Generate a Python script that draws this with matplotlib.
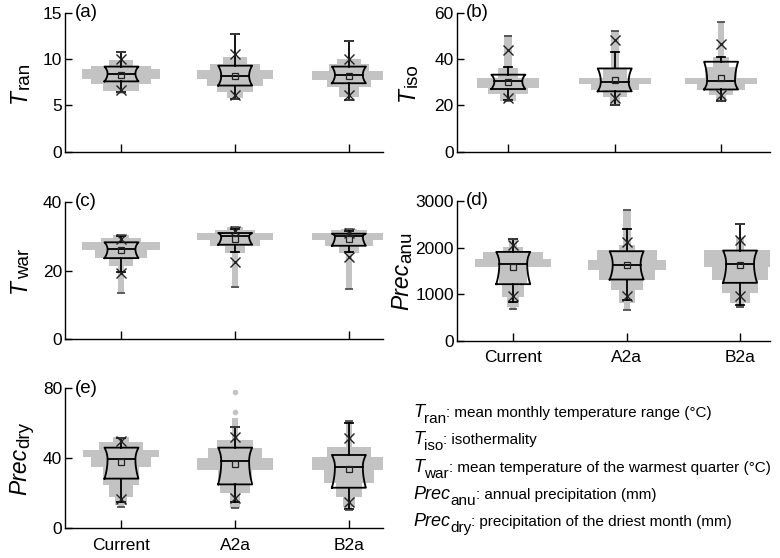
import numpy as np
import matplotlib.pyplot as plt

plt.rcParams['font.family'] = ['Liberation Sans', 'DejaVu Sans']

groups = ['Current', 'A2a', 'B2a']

# box statistics, one value per group (Current, A2a, B2a)
# (a) T_ran
a_max = [10.8, 12.7, 12.0]
a_whi = [10.8, 12.7, 12.0]
a_p99 = [10.0, 10.6, 10.0]
a_q3 = [9.2, 9.3, 9.2]
a_med = [8.45, 8.2, 8.3]
a_mean = [8.3, 8.2, 8.2]
a_q1 = [7.6, 7.15, 7.4]
a_p1 = [6.7, 6.1, 6.1]
a_wlo = [6.5, 5.7, 5.6]
a_min = [6.5, 5.7, 5.6]

# (b) T_iso
b_max = [50.0, 52.1, 56.1]
b_whi = [36.8, 42.9, 41.0]
b_p99 = [43.9, 48.1, 46.4]
b_q3 = [33.3, 36.0, 38.9]
b_med = [30.4, 30.3, 30.7]
b_mean = [30.0, 31.1, 31.9]
b_q1 = [27.1, 26.1, 26.9]
b_p1 = [23.3, 23.1, 24.3]
b_wlo = [22.4, 20.0, 22.1]
b_min = [22.1, 20.0, 22.1]

# (c) T_war
c_max = [30.2, 32.6, 32.0]
c_whi = [29.9, 32.0, 31.6]
c_p99 = [29.1, 31.4, 30.9]
c_q3 = [28.2, 30.9, 30.7]
c_med = [26.2, 29.9, 29.9]
c_mean = [26.0, 29.2, 29.2]
c_q1 = [23.6, 27.5, 27.2]
c_p1 = [19.4, 22.6, 23.8]
c_wlo = [19.6, 25.5, 25.5]
c_min = [13.4, 15.1, 14.7]

# (d) Prec_anu
d_max = [2193, 2800, 2500]
d_whi = [2180, 2407, 2500]
d_p99 = [2050, 2121, 2157]
d_q3 = [1907, 1921, 1936]
d_med = [1657, 1636, 1657]
d_mean = [1586, 1621, 1621]
d_q1 = [1214, 1314, 1243]
d_p1 = [957, 957, 957]
d_wlo = [836, 871, 764]
d_min = [671, 657, 714]

# (e) Prec_dry
e_max = [51.8, 58.1, 61.5]
e_whi = [51.4, 58.1, 60.0]
e_p99 = [50.1, 52.4, 51.4]
e_q3 = [46.1, 46.1, 41.9]
e_med = [39.4, 38.5, 35.2]
e_mean = [38.1, 36.8, 33.7]
e_q1 = [28.4, 25.1, 23.2]
e_p1 = [16.6, 17.1, 15.2]
e_wlo = [14.9, 15.2, 10.9]
e_min = [12.4, 11.4, 10.5]
e_outliers_a2a = [66.7, 78.0]

# distributions behind the boxes: bin edges and relative counts
a_cur_edges = [6.2, 6.6, 7.3, 7.9, 8.9, 9.3, 9.9]
a_cur_counts = [5, 18, 30, 39, 30, 12]
a_a2a_edges = [5.8, 6.4, 7.1, 7.9, 8.8, 9.5, 10.2]
a_a2a_counts = [8, 18, 28, 38, 25, 12]
a_b2a_edges = [5.9, 7.0, 7.75, 8.75, 9.5, 10.0]
a_b2a_counts = [10, 22, 37, 20, 12]

b_cur_edges = [22, 25, 27.6, 31.9, 36.4, 50.5]
b_cur_counts = [8, 20, 31, 10, 4]
b_a2a_edges = [20, 23.5, 26.5, 29.3, 31.9, 36, 52]
b_a2a_counts = [5, 12, 24, 36, 12, 4]
b_b2a_edges = [22, 24.5, 26.5, 29.3, 31.9, 36.5, 41, 56]
b_b2a_counts = [5, 12, 24, 36, 16, 8, 3]

c_cur_edges = [13.4, 21.2, 23.6, 26, 28.2, 29.4, 30.4]
c_cur_counts = [3, 12, 26, 39, 20, 8]
c_a2a_edges = [15, 25, 27.2, 28.9, 30.9, 31.8, 32.6]
c_a2a_counts = [3, 10, 25, 38, 20, 8]
c_b2a_edges = [14.6, 25, 27.2, 28.9, 30.9, 31.8, 32.2]
c_b2a_counts = [3, 10, 24, 37, 18, 8]

d_cur_edges = [660, 730, 943, 1229, 1586, 1764, 1907, 2014, 2190]
d_cur_counts = [3, 6, 11, 14, 38, 30, 10, 4]
d_a2a_edges = [650, 800, 1086, 1300, 1514, 1729, 1943, 2050, 2800]
d_a2a_counts = [3, 8, 16, 28, 39, 30, 8, 4]
d_b2a_edges = [700, 800, 1014, 1300, 1586, 1943, 2230]
d_b2a_counts = [4, 10, 18, 28, 36, 4]

e_cur_edges = [12.4, 13.3, 18.1, 24.8, 35.2, 40.6, 44.8, 49.5, 52]
e_cur_counts = [3, 6, 12, 18, 30, 38, 22, 8]
e_a2a_edges = [11.4, 20, 27.6, 33.3, 40, 45.7, 50.5, 63]
e_a2a_counts = [5, 15, 17, 38, 27, 18, 3]
e_b2a_edges = [10.5, 12.4, 18.1, 25.7, 33.3, 40.6, 46.7, 61.5]
e_b2a_counts = [3, 6, 13, 25, 37, 22, 3]

panels = [
    ('(a)', ('T', 'ran'), [0, 5, 10, 15],
     [a_max, a_whi, a_p99, a_q3, a_med, a_mean, a_q1, a_p1, a_wlo, a_min],
     [(a_cur_edges, a_cur_counts), (a_a2a_edges, a_a2a_counts), (a_b2a_edges, a_b2a_counts)]),
    ('(b)', ('T', 'iso'), [0, 20, 40, 60],
     [b_max, b_whi, b_p99, b_q3, b_med, b_mean, b_q1, b_p1, b_wlo, b_min],
     [(b_cur_edges, b_cur_counts), (b_a2a_edges, b_a2a_counts), (b_b2a_edges, b_b2a_counts)]),
    ('(c)', ('T', 'war'), [0, 20, 40],
     [c_max, c_whi, c_p99, c_q3, c_med, c_mean, c_q1, c_p1, c_wlo, c_min],
     [(c_cur_edges, c_cur_counts), (c_a2a_edges, c_a2a_counts), (c_b2a_edges, c_b2a_counts)]),
    ('(d)', ('Prec', 'anu'), [0, 1000, 2000, 3000],
     [d_max, d_whi, d_p99, d_q3, d_med, d_mean, d_q1, d_p1, d_wlo, d_min],
     [(d_cur_edges, d_cur_counts), (d_a2a_edges, d_a2a_counts), (d_b2a_edges, d_b2a_counts)]),
    ('(e)', ('Prec', 'dry'), [0, 40, 80],
     [e_max, e_whi, e_p99, e_q3, e_med, e_mean, e_q1, e_p1, e_wlo, e_min],
     [(e_cur_edges, e_cur_counts), (e_a2a_edges, e_a2a_counts), (e_b2a_edges, e_b2a_counts)]),
]

desc_var = [('T', 'ran'), ('T', 'iso'), ('T', 'war'), ('Prec', 'anu'), ('Prec', 'dry')]
desc_text = [
    ': mean monthly temperature range (°C)',
    ': isothermality',
    ': mean temperature of the warmest quarter (°C)',
    ': annual precipitation (mm)',
    ': precipitation of the driest month (mm)',
]

# layout (figure fractions), x limits, ylabel baseline x (px)
W_PX, H_PX = 780, 558
rects = [
    [0.0833, 0.7282, 0.4077, 0.2486],
    [0.5853, 0.7282, 0.4019, 0.2486],
    [0.0833, 0.3919, 0.4077, 0.2466],
    [0.5853, 0.3894, 0.4019, 0.2504],
    [0.0833, 0.0532, 0.4077, 0.2509],
]
xlims = [(0.503, 3.30), (0.513, 3.46), (0.503, 3.30), (0.50, 3.264), (0.503, 3.30)]
ylab_px = [26, 414, 26, 408, 26]

gray = '#c3c3c3'
fig = plt.figure(figsize=(7.8, 5.58), dpi=100)
rend = fig.canvas.get_renderer()


def var_label(x, y, main, sub, s_main, s_sub, drop, rotated=False):
    # italic symbol with a large, lowered upright subscript; x, y in pixels
    if not rotated:
        t1 = fig.text(x / W_PX, y / H_PX, main, style='italic', fontsize=s_main,
                      va='baseline', ha='left')
        bb = t1.get_window_extent(rend)
        t2 = fig.text(bb.x1 / W_PX, (y - drop) / H_PX, sub, fontsize=s_sub,
                      va='baseline', ha='left')
        return t2.get_window_extent(rend).x1
    kw = dict(rotation=90, rotation_mode='anchor', va='baseline', ha='left')
    t1 = fig.text(x / W_PX, 0, main, style='italic', fontsize=s_main, **kw)
    t2 = fig.text((x + drop) / W_PX, 0, sub, fontsize=s_sub, **kw)
    l1 = t1.get_window_extent(rend).height
    l2 = t2.get_window_extent(rend).height
    y0 = y - (l1 + l2) / 2
    t1.set_position((x / W_PX, y0 / H_PX))
    t2.set_position(((x + drop) / W_PX, (y0 + l1) / H_PX))


for k, (lab, ylab, yt, st, dists) in enumerate(panels):
    ax = fig.add_axes(rects[k])
    x0, x1 = xlims[k]
    ppu = rects[k][2] * W_PX / (x1 - x0)  # pixels per x unit
    mx, whi, p99, q3, med, mean, q1, p1, wlo, mn = st
    box_w = 17 / ppu
    cap_w = 4 / ppu
    notch = 0.18

    for i in range(3):
        x = i + 1
        edges = np.array(dists[i][0], dtype=float)
        counts = np.array(dists[i][1], dtype=float)
        hw = counts / ppu
        ax.barh((edges[:-1] + edges[1:]) / 2, 2 * hw, height=np.diff(edges),
                left=x - hw, color=gray, lw=0, zorder=1)

        # notched box outline
        t = np.linspace(0, 1, 25)
        y_low = med[i] - (med[i] - q1[i]) * t[::-1]
        y_up = med[i] + (q3[i] - med[i]) * t
        ys = np.concatenate([y_low, y_up[1:]])
        tt = np.concatenate([t[::-1], t[1:]])
        half = box_w * (1 - notch * (1 - tt ** 2))
        px = np.concatenate([x - half, (x + half)[::-1], [x - half[0]]])
        py = np.concatenate([ys, ys[::-1], [ys[0]]])
        ax.plot(px, py, color='k', lw=1.3, zorder=4)
        ax.plot([x - box_w * (1 - notch), x + box_w * (1 - notch)], [med[i], med[i]],
                color='k', lw=1.3, zorder=4)

        # whiskers and caps
        ax.plot([x, x], [q3[i], whi[i]], color='k', lw=1.3, zorder=4)
        ax.plot([x, x], [q1[i], wlo[i]], color='k', lw=1.3, zorder=4)
        ax.plot([x - cap_w, x + cap_w], [whi[i], whi[i]], color='k', lw=1.3, zorder=4)
        ax.plot([x - cap_w, x + cap_w], [wlo[i], wlo[i]], color='k', lw=1.3, zorder=4)

        ax.plot([x, x], [mn[i], mx[i]], ls='none', marker='_', ms=6, mew=1.2,
                color='#444444', zorder=5)
        ax.plot([x, x], [p1[i], p99[i]], ls='none', marker='x', ms=7, mew=1.0,
                color='#222222', zorder=5)
        ax.plot([x], [mean[i]], ls='none', marker='s', ms=5, mfc='none', mec='#222222',
                mew=0.9, zorder=5)

    if lab == '(e)':
        ax.plot([2] * len(e_outliers_a2a), e_outliers_a2a, ls='none', marker='o', ms=3,
                color=gray, zorder=1)

    ax.set_xlim(x0, x1)
    ax.set_ylim(yt[0], yt[-1])
    ax.set_yticks(yt)
    ax.set_xticks([1, 2, 3])
    if lab in ('(d)', '(e)'):
        ax.set_xticklabels(groups)
    else:
        ax.set_xticklabels([])
    ax.tick_params(axis='y', direction='in', length=5, width=1, labelsize=12.5, pad=2)
    ax.tick_params(axis='x', direction='in', length=6, width=1, labelsize=12.5, pad=7)
    ax.spines['right'].set_visible(False)
    ax.spines['top'].set_visible(False)
    for s in ax.spines.values():
        s.set_linewidth(1.0)
    ax.text(0.03, 1.0, lab, transform=ax.transAxes, va='center', ha='left', fontsize=13.5)

    yc = (rects[k][1] + rects[k][3] / 2) * H_PX
    var_label(ylab_px[k], yc, ylab[0], ylab[1], 16.5, 13.5, 3, rotated=True)

# variable descriptions
base_y = [417, 444, 472, 499, 526]
for (m, s), txt, yy in zip(desc_var, desc_text, base_y):
    xe = var_label(413, H_PX - yy, m, s, 13, 11, 6)
    fig.text(xe / W_PX, 1 - yy / H_PX, txt, fontsize=11, va='baseline', ha='left')

fig.savefig('out.png', dpi=100)
